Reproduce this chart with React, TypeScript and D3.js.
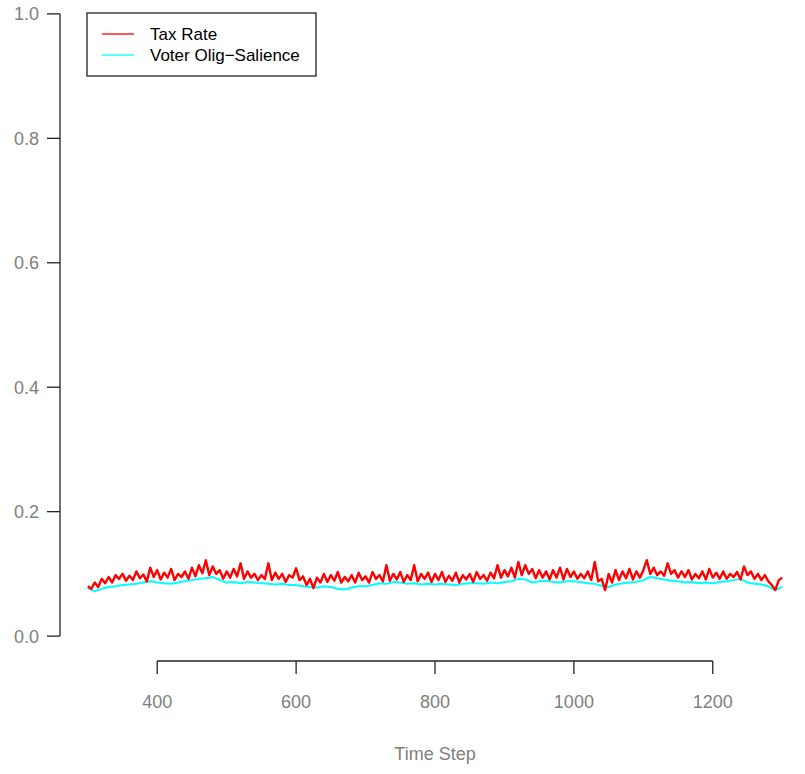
import React from "react";
import * as d3 from "d3";

const W = 805;
const H = 774;

const T_START = 300;
const TAX_STEP = 5;
const SAL_STEP = 10;

const taxRate: number[] = [
  0.080, 0.076, 0.086, 0.079, 0.092, 0.085, 0.095, 0.086, 0.098, 0.092,
  0.100, 0.089, 0.097, 0.090, 0.104, 0.093, 0.099, 0.088, 0.110, 0.095,
  0.106, 0.091, 0.102, 0.094, 0.108, 0.090, 0.100, 0.095, 0.104, 0.092,
  0.110, 0.096, 0.114, 0.101, 0.122, 0.098, 0.112, 0.100, 0.106, 0.092,
  0.104, 0.094, 0.108, 0.096, 0.117, 0.092, 0.104, 0.094, 0.100, 0.090,
  0.098, 0.092, 0.117, 0.090, 0.102, 0.092, 0.100, 0.087, 0.098, 0.094,
  0.109, 0.090, 0.096, 0.082, 0.092, 0.077, 0.094, 0.086, 0.100, 0.087,
  0.098, 0.089, 0.103, 0.086, 0.095, 0.088, 0.098, 0.086, 0.102, 0.090,
  0.096, 0.086, 0.103, 0.092, 0.098, 0.088, 0.114, 0.089, 0.100, 0.091,
  0.103, 0.087, 0.098, 0.090, 0.114, 0.088, 0.100, 0.092, 0.102, 0.087,
  0.100, 0.090, 0.103, 0.087, 0.097, 0.089, 0.102, 0.086, 0.098, 0.091,
  0.100, 0.087, 0.103, 0.092, 0.098, 0.089, 0.102, 0.093, 0.114, 0.094,
  0.106, 0.096, 0.110, 0.094, 0.119, 0.098, 0.114, 0.100, 0.108, 0.093,
  0.106, 0.094, 0.104, 0.091, 0.106, 0.094, 0.110, 0.091, 0.108, 0.095,
  0.104, 0.092, 0.100, 0.093, 0.104, 0.090, 0.119, 0.088, 0.092, 0.074,
  0.100, 0.086, 0.106, 0.090, 0.104, 0.093, 0.108, 0.091, 0.104, 0.094,
  0.106, 0.122, 0.100, 0.110, 0.098, 0.104, 0.097, 0.117, 0.100, 0.106,
  0.094, 0.104, 0.095, 0.106, 0.091, 0.100, 0.093, 0.104, 0.091, 0.108,
  0.094, 0.102, 0.092, 0.104, 0.092, 0.100, 0.095, 0.103, 0.091, 0.112,
  0.098, 0.104, 0.092, 0.100, 0.090, 0.098, 0.088, 0.082, 0.074, 0.090,
  0.094,
];

const oligSalience: number[] = [
  0.077, 0.072, 0.076, 0.079, 0.080, 0.082, 0.083, 0.084, 0.086, 0.088,
  0.086, 0.085, 0.084, 0.086, 0.088, 0.090, 0.092, 0.093, 0.095, 0.090,
  0.086, 0.087, 0.085, 0.087, 0.086, 0.085, 0.084, 0.083, 0.084, 0.082,
  0.082, 0.080, 0.079, 0.078, 0.080, 0.079, 0.076, 0.075, 0.078, 0.080,
  0.080, 0.082, 0.085, 0.084, 0.087, 0.086, 0.084, 0.085, 0.083, 0.084,
  0.083, 0.084, 0.083, 0.082, 0.084, 0.085, 0.085, 0.084, 0.086, 0.085,
  0.087, 0.088, 0.092, 0.091, 0.086, 0.088, 0.089, 0.087, 0.086, 0.088,
  0.088, 0.087, 0.085, 0.084, 0.081, 0.079, 0.083, 0.085, 0.086, 0.087,
  0.090, 0.095, 0.093, 0.091, 0.089, 0.088, 0.086, 0.087, 0.085, 0.086,
  0.085, 0.087, 0.088, 0.090, 0.092, 0.086, 0.084, 0.083, 0.080, 0.074,
  0.079,
];

const xTicks: number[] = [400, 600, 800, 1000, 1200];
const yTicks: number[] = [0, 0.2, 0.4, 0.6, 0.8, 1.0];
const seriesNames: string[] = ["Tax Rate", "Voter Olig\u2212Salience"];
const seriesColors: string[] = ["#ff0000", "#00ffff"];
const xLabel = "Time Step";

const FONT = "'Liberation Sans', Arial, Helvetica, sans-serif";

export default function App() {
  const x = d3.scaleLinear().domain([260, 1340]).range([60, 810]);
  const y = d3.scaleLinear().domain([-0.04, 1.04]).range([661, -11]);

  const line = d3
    .line<[number, number]>()
    .x((d) => x(d[0]))
    .y((d) => y(d[1]));

  const taxPts: [number, number][] = taxRate.map((v, i) => [T_START + i * TAX_STEP, v]);
  const salPts: [number, number][] = oligSalience.map((v, i) => [T_START + i * SAL_STEP, v]);

  const axisY0 = y(-0.04);
  const tickLen = 13;
  const axisColor = "#222";
  const labelColor = "#808080";

  return (
    <svg
      width={W}
      height={H}
      style={{ position: "absolute", left: 0, top: 0, background: "#fff" }}
      fontFamily={FONT}
    >
      <rect x={0} y={0} width={W} height={H} fill="#fff" />
      {/* data */}
      <path d={line(salPts) || ""} fill="none" stroke={seriesColors[1]} strokeWidth={2} strokeLinejoin="round" />
      <path d={line(taxPts) || ""} fill="none" stroke={seriesColors[0]} strokeWidth={2.4} strokeLinejoin="round" />

      {/* y axis */}
      <line x1={60} x2={60} y1={y(0)} y2={y(1)} stroke={axisColor} strokeWidth={1.3} />
      {yTicks.map((t) => (
        <g key={t}>
          <line x1={60 - tickLen} x2={60} y1={y(t)} y2={y(t)} stroke={axisColor} strokeWidth={1.3} />
          <text x={39} y={y(t)} dy="0.36em" textAnchor="end" fontSize={18} fill={labelColor}>
            {t.toFixed(1)}
          </text>
        </g>
      ))}

      {/* x axis */}
      <line x1={x(400)} x2={x(1200)} y1={axisY0} y2={axisY0} stroke={axisColor} strokeWidth={1.3} />
      {xTicks.map((t) => (
        <g key={t}>
          <line x1={x(t)} x2={x(t)} y1={axisY0} y2={axisY0 + tickLen} stroke={axisColor} strokeWidth={1.3} />
          <text x={x(t)} y={708} textAnchor="middle" fontSize={18} fill={labelColor}>
            {t}
          </text>
        </g>
      ))}
      <text x={x(800)} y={760} textAnchor="middle" fontSize={18} fill={labelColor}>
        {xLabel}
      </text>

      {/* legend */}
      <rect x={87} y={13} width={229} height={63} fill="#fff" stroke={axisColor} strokeWidth={1.3} />
      {seriesNames.map((name, i) => (
        <g key={name}>
          <line x1={102} x2={134} y1={34 + i * 21} y2={34 + i * 21} stroke={seriesColors[i]} strokeWidth={1.3} />
          <text x={150} y={34 + i * 21} dy="0.36em" fontSize={17} fill="#000">
            {name}
          </text>
        </g>
      ))}
    </svg>
  );
}
